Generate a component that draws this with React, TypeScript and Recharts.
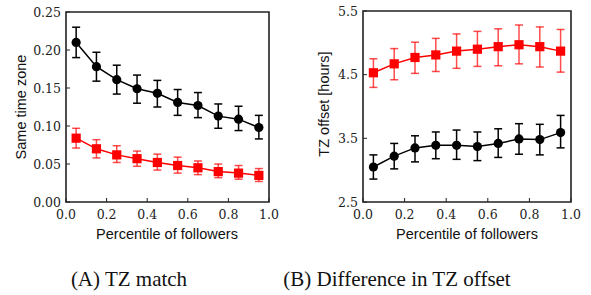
import {CartesianGrid, ErrorBar, Line, LineChart, ReferenceArea, XAxis, YAxis} from 'recharts';

// percentile bins (bin centres)
const percentiles = [0.05, 0.15, 0.25, 0.35, 0.45, 0.55, 0.65, 0.75, 0.85, 0.95];
const xTicks = [0, 0.2, 0.4, 0.6, 0.8, 1.0];

// (A) TZ match
const matchBlack = [0.210, 0.178, 0.161, 0.149, 0.143, 0.131, 0.127, 0.113, 0.109, 0.098];
const matchBlackLow = [0.190, 0.159, 0.142, 0.130, 0.125, 0.114, 0.111, 0.097, 0.094, 0.083];
const matchBlackHigh = [0.230, 0.197, 0.180, 0.167, 0.160, 0.148, 0.144, 0.129, 0.126, 0.114];
const matchRed = [0.084, 0.070, 0.062, 0.057, 0.052, 0.048, 0.045, 0.040, 0.038, 0.035];
const matchRedLow = [0.071, 0.058, 0.052, 0.047, 0.042, 0.038, 0.036, 0.032, 0.030, 0.027];
const matchRedHigh = [0.097, 0.082, 0.074, 0.067, 0.063, 0.059, 0.054, 0.050, 0.048, 0.044];
const matchTicks = [0, 0.05, 0.10, 0.15, 0.20, 0.25];

// (B) difference in TZ offset
const offsetBlack = [3.05, 3.22, 3.35, 3.39, 3.39, 3.37, 3.42, 3.49, 3.48, 3.59];
const offsetBlackLow = [2.86, 3.02, 3.13, 3.18, 3.17, 3.15, 3.20, 3.25, 3.24, 3.35];
const offsetBlackHigh = [3.24, 3.42, 3.54, 3.60, 3.63, 3.60, 3.65, 3.73, 3.72, 3.86];
const offsetRed = [4.53, 4.67, 4.77, 4.81, 4.87, 4.90, 4.94, 4.97, 4.94, 4.87];
const offsetRedLow = [4.30, 4.42, 4.52, 4.55, 4.60, 4.63, 4.64, 4.67, 4.62, 4.54];
const offsetRedHigh = [4.75, 4.91, 5.01, 5.07, 5.14, 5.18, 5.22, 5.28, 5.25, 5.21];
const offsetTicks = [2.5, 3.5, 4.5, 5.5];

const RED = '#ff0000';
const RED_ERR = 'rgba(255,0,0,0.7)';
const TICK_FONT = '"DejaVu Serif", serif';
const LABEL_FONT = '"Liberation Sans", Arial, sans-serif';

function buildRows(black: number[], bLow: number[], bHigh: number[], red: number[], rLow: number[], rHigh: number[]) {
  return percentiles.map((p, i) => ({
    x: p,
    black: black[i],
    red: red[i],
    blackErr: [black[i] - bLow[i], bHigh[i] - black[i]],
    redErr: [red[i] - rLow[i], rHigh[i] - red[i]],
  }));
}

const TICK_MARGIN = 8;
const Y_TICK_MARGIN = 5;

function BottomTick(props: any) {
  const {x, y, payload} = props;
  const axisY = y - TICK_MARGIN;
  return (
    <g>
      <line x1={x} y1={axisY} x2={x} y2={axisY - 4} stroke="#222" strokeWidth={1} />
      <text x={x} y={y} dy="0.75em" textAnchor="middle" fontFamily={TICK_FONT} fontSize={12.5} fill="#222">
        {Number(payload.value).toFixed(1)}
      </text>
    </g>
  );
}

function makeLeftTick(digits: number) {
  return function LeftTick(props: any) {
    const {x, y, payload} = props;
    const axisX = x + Y_TICK_MARGIN;
    return (
      <g>
        <line x1={axisX} y1={y} x2={axisX + 4} y2={y} stroke="#222" strokeWidth={1} />
        <text x={x} y={y} dy="0.36em" textAnchor="end" fontFamily={TICK_FONT} fontSize={12.5} fill="#222">
          {Number(payload.value).toFixed(digits)}
        </text>
      </g>
    );
  };
}

function CircleDot(props: any) {
  const {cx, cy, index} = props;
  if (cx == null || cy == null) return <g key={index} />;
  return <circle key={index} cx={cx} cy={cy} r={4.6} fill="#000" stroke="none" />;
}

function SquareDot(props: any) {
  const {cx, cy, index} = props;
  if (cx == null || cy == null) return <g key={index} />;
  return <rect key={index} x={cx - 4.6} y={cy - 4.6} width={9.2} height={9.2} fill={RED} stroke="none" />;
}

interface PanelProps {
  rows: any[];
  domain: [number, number];
  yTicks: number[];
  digits: number;
  width: number;
  margin: {top: number; right: number; bottom: number; left: number};
}

function Panel({rows, domain, yTicks, digits, width, margin}: PanelProps) {
  return (
    <LineChart width={width} height={240} data={rows} margin={margin}>
      <CartesianGrid stroke="none" fill="#fff" />
      <XAxis
        dataKey="x"
        type="number"
        domain={[0, 1]}
        ticks={xTicks}
        axisLine={false}
        tickLine={false}
        tickSize={0}
        tickMargin={TICK_MARGIN}
        height={30}
        tick={<BottomTick />}
        interval={0}
      />
      <YAxis
        type="number"
        domain={domain}
        ticks={yTicks}
        axisLine={false}
        tickLine={false}
        tickSize={0}
        tickMargin={Y_TICK_MARGIN}
        width={40}
        tick={makeLeftTick(digits)}
        interval={0}
        allowDataOverflow
      />
      <Line dataKey="black" stroke="#000" strokeWidth={1.5} dot={CircleDot} isAnimationActive={false}>
        <ErrorBar dataKey="blackErr" direction="y" width={4} stroke="#000" strokeWidth={1.5} isAnimationActive={false} />
      </Line>
      <Line dataKey="red" stroke={RED} strokeWidth={1.5} dot={SquareDot} isAnimationActive={false}>
        <ErrorBar dataKey="redErr" direction="y" width={4} stroke={RED_ERR} strokeWidth={1.5} isAnimationActive={false} />
      </Line>
      <ReferenceArea x1={0} x2={1} y1={domain[0]} y2={domain[1]} fill="none" fillOpacity={0} stroke="#222" strokeWidth={1.6} ifOverflow="visible" />
    </LineChart>
  );
}

export default function App() {
  const matchRows = buildRows(matchBlack, matchBlackLow, matchBlackHigh, matchRed, matchRedLow, matchRedHigh);
  const offsetRows = buildRows(offsetBlack, offsetBlackLow, offsetBlackHigh, offsetRed, offsetRedLow, offsetRedHigh);

  return (
    <div style={{position: 'fixed', left: 0, top: 0, width: 591, height: 295, background: '#fff'}}>
      <div style={{position: 'absolute', left: 0, top: 0}}>
        <Panel
          rows={matchRows}
          domain={[0, 0.25]}
          yTicks={matchTicks}
          digits={2}
          width={295}
          margin={{top: 12, right: 26, bottom: 8, left: 26}}
        />
      </div>
      <div style={{position: 'absolute', left: 295, top: 0}}>
        <Panel
          rows={offsetRows}
          domain={[2.5, 5.5]}
          yTicks={offsetTicks}
          digits={1}
          width={296}
          margin={{top: 11, right: 20, bottom: 8, left: 28}}
        />
      </div>
      <svg width={591} height={295} style={{position: 'absolute', left: 0, top: 0, pointerEvents: 'none'}}>
        <text x={167} y={238.5} textAnchor="middle" fontFamily={LABEL_FONT} fontSize={14.5} fill="#111">
          Percentile of followers
        </text>
        <text x={467} y={238.5} textAnchor="middle" fontFamily={LABEL_FONT} fontSize={14.5} fill="#111">
          Percentile of followers
        </text>
        <text transform="translate(26,107) rotate(-90)" textAnchor="middle" fontFamily={LABEL_FONT} fontSize={14.5} fill="#111">
          Same time zone
        </text>
        <text transform="translate(329,104) rotate(-90)" textAnchor="middle" fontFamily={LABEL_FONT} fontSize={14.5} fill="#111">
          TZ offset [hours]
        </text>
        <text x={129} y={286} textAnchor="middle" fontFamily='"Liberation Serif", "Times New Roman", serif' fontSize={21} fill="#111">
          (A) TZ match
        </text>
        <text x={397} y={286} textAnchor="middle" fontFamily='"Liberation Serif", "Times New Roman", serif' fontSize={21} fill="#111">
          (B) Difference in TZ offset
        </text>
      </svg>
    </div>
  );
}
